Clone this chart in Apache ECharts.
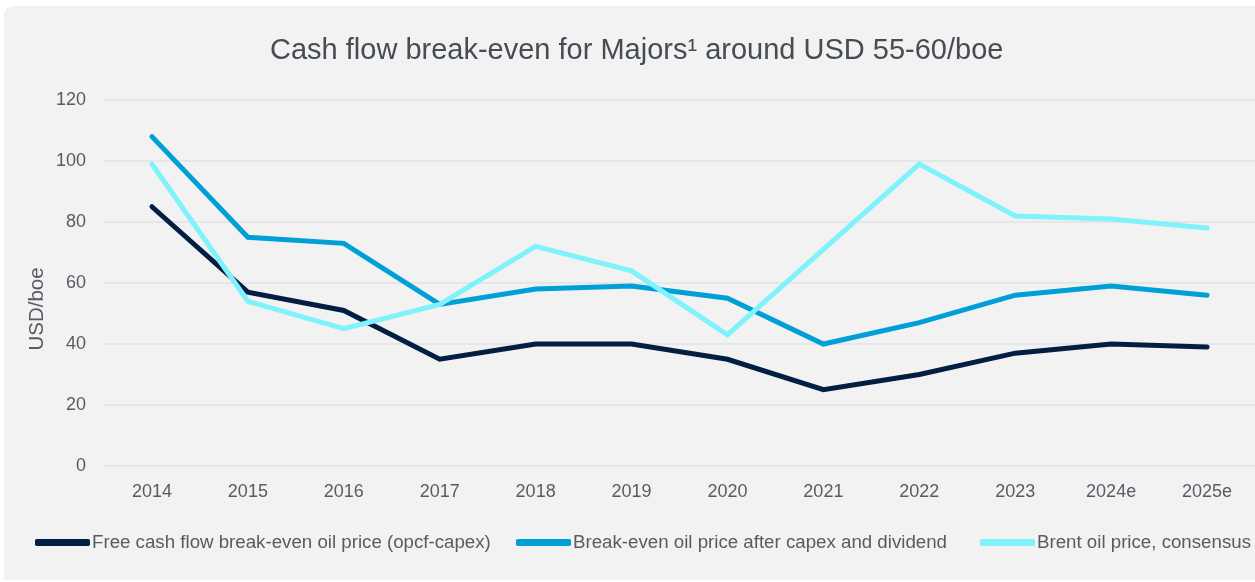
<!DOCTYPE html>
<html>
<head>
<meta charset="utf-8">
<script src="https://cdn.jsdelivr.net/npm/echarts@6/dist/echarts.min.js"></script>
<style>
html,body{margin:0;padding:0;background:#ffffff;}
#chart{width:1255px;height:582px;}
</style>
</head>
<body>
<div id="chart"></div>
<script>
const categories = ['2014','2015','2016','2017','2018','2019','2020','2021','2022','2023','2024e','2025e'];
const freeCashFlowBE = [85, 57, 51, 35, 40, 40, 35, 25, 30, 37, 40, 39];
const breakEvenCapexDiv = [108, 75, 73, 53, 58, 59, 55, 40, 47, 56, 59, 56];
const brentConsensus = [99, 54, 45, 53, 72, 64, 43, 71, 99, 82, 81, 78];
const seriesNames = ['Free cash flow break-even oil price (opcf-capex)', 'Break-even oil price after capex and dividend', 'Brent oil price, consensus'];
const yTicks = { min: 0, max: 120, interval: 20 };
const yAxisName = 'USD/boe';

const colors = ['#021f43', '#00a0d6', '#7ff2fb'];
const textColor = '#565c63';
const font = '"Liberation Sans", Arial, sans-serif';
const legendLefts = [35, 516, 980];

const chart = echarts.init(document.getElementById('chart'), null, {renderer: 'canvas'});
const mk = (name, data, i) => ({
  name, type: 'line', data, symbol: 'none', smooth: false,
  lineStyle: { width: 5, color: colors[i], cap: 'round', join: 'miter' },
  itemStyle: { color: colors[i] },
  z: 3 + i
});
chart.setOption({
  backgroundColor: '#ffffff',
  animation: false,
  graphic: [{
    type: 'rect', z: -10, silent: true,
    shape: { x: 4, y: 6, width: 1270, height: 574, r: [9, 0, 0, 0] },
    style: { fill: '#f2f2f2' }
  }, {
    type: 'text', silent: true, z: 10,
    x: 37, y: 309, rotation: Math.PI / 2,
    style: { text: yAxisName, fontFamily: font, fontSize: 20.5, fill: textColor, align: 'center', verticalAlign: 'middle' }
  }],
  title: {
    text: 'Cash flow break-even for Majors\u00b9 around USD 55-60/boe',
    left: 265, top: 31,
    textStyle: { fontFamily: font, fontSize: 29, fontWeight: 'normal', color: '#454c54' }
  },
  legend: seriesNames.map((n, i) => ({
    bottom: 30, left: legendLefts[i], padding: 0,
    itemWidth: 55, itemHeight: 7,
    icon: 'roundRect',
    textStyle: { fontFamily: font, fontSize: 18.7, color: textColor, padding: [0, 0, 0, -3] },
    data: [n]
  })),
  grid: { left: 104, right: -5, top: 100, bottom: 116, containLabel: false },
  xAxis: {
    type: 'category', data: categories, boundaryGap: true,
    axisLine: { show: false }, axisTick: { show: false },
    axisLabel: { fontFamily: font, fontSize: 18, color: textColor, margin: 17 }
  },
  yAxis: {
    type: 'value', min: yTicks.min, max: yTicks.max, interval: yTicks.interval,
    axisLine: { show: false }, axisTick: { show: false },
    axisLabel: { fontFamily: font, fontSize: 18, color: textColor, margin: 18 },
    splitLine: { lineStyle: { color: '#dfe2e6', width: 1.5 } }
  },
  series: [
    mk(seriesNames[0], freeCashFlowBE, 0),
    mk(seriesNames[1], breakEvenCapexDiv, 1),
    mk(seriesNames[2], brentConsensus, 2)
  ]
});
</script>
</body>
</html>
